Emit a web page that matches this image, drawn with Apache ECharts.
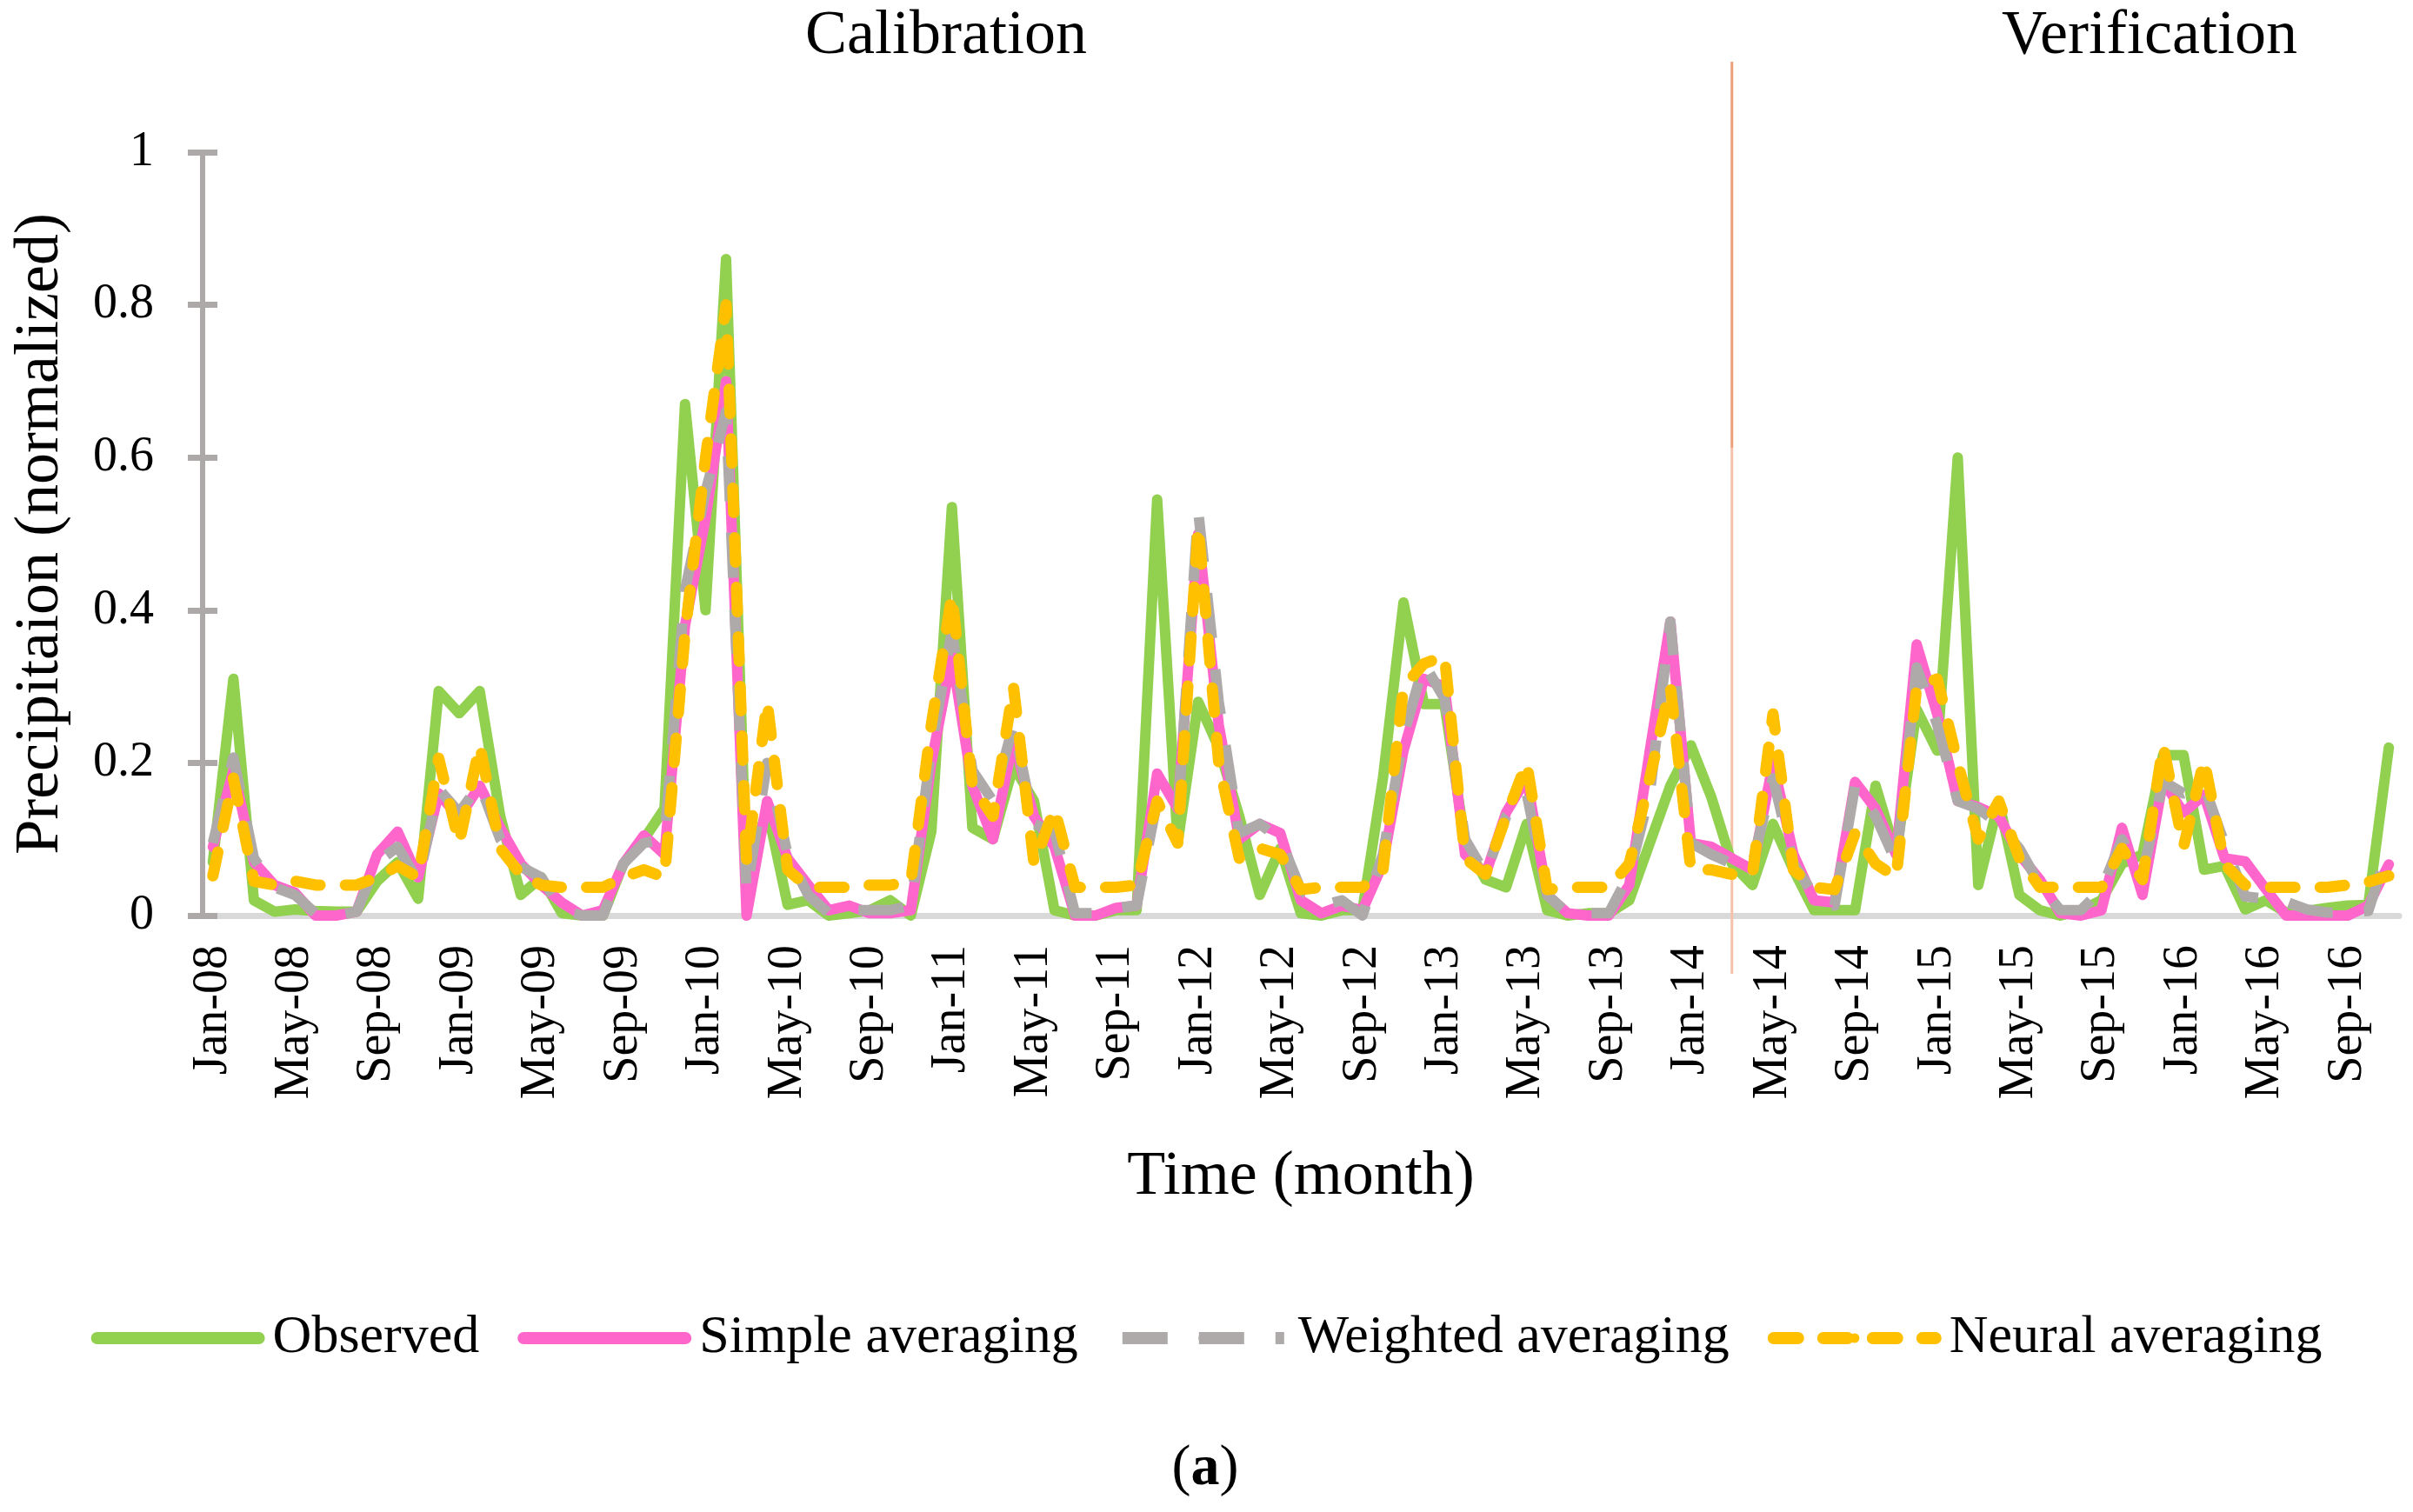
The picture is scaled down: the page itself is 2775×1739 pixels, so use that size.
<!DOCTYPE html>
<html>
<head>
<meta charset="utf-8">
<title>Precipitation</title>
<script src="https://cdn.jsdelivr.net/npm/echarts@6/dist/echarts.min.js"></script>
<style>
  html, body { margin: 0; padding: 0; background: #fff; }
  #chart { width: 2775px; height: 1739px; }
</style>
</head>
<body>
<div id="chart"></div>
<script>
// month labels Jan-08 .. Nov-16
const monthNames = ['Jan', 'Feb', 'Mar', 'Apr', 'May', 'Jun', 'Jul', 'Aug', 'Sep', 'Oct', 'Nov', 'Dec']
const years = ['08', '09', '10', '11', '12', '13', '14', '15', '16']
const months = []
years.forEach(function (y) {
  monthNames.forEach(function (m) {
    months.push(m + '-' + y)
  })
})
months.length = 107

const yTicks = [0, 0.2, 0.4, 0.6, 0.8, 1]

const observed = [
  0.07, 0.31, 0.02, 0.005, 0.008, 0.006, 0.005, 0.005, 0.045, 0.07, 0.022, 0.294,
  0.265, 0.294, 0.13, 0.027, 0.05, 0.003, 0, 0, 0.068, 0.1, 0.14, 0.67,
  0.4, 0.86, 0.05, 0.14, 0.014, 0.02, 0, 0.003, 0.007, 0.02, 0, 0.11,
  0.535, 0.115, 0.1, 0.196, 0.15, 0.007, 0, 0, 0.007, 0.007, 0.545, 0.095,
  0.28, 0.22, 0.13, 0.027, 0.088, 0.003, 0, 0.007, 0.007, 0.18, 0.41, 0.277,
  0.277, 0.095, 0.047, 0.037, 0.12, 0.007, 0, 0.003, 0.003, 0.02, 0.095, 0.17,
  0.223, 0.155, 0.068, 0.04, 0.12, 0.06, 0.007, 0.007, 0.007, 0.17, 0.08, 0.27,
  0.216, 0.6, 0.04, 0.15, 0.027, 0.007, 0, 0.007, 0.02, 0.068, 0.08, 0.21,
  0.21, 0.06, 0.065, 0.008, 0.02, 0.004, 0.006, 0.01, 0.013, 0.014, 0.22,
]

const simpleAvg = [
  0.09, 0.19, 0.07, 0.04, 0.03, 0, 0, 0.005, 0.08, 0.11, 0.05, 0.16,
  0.128, 0.17, 0.115, 0.068, 0.04, 0.017, 0, 0.007, 0.068, 0.105, 0.08, 0.38,
  0.52, 0.7, 0, 0.15, 0.075, 0.04, 0.007, 0.013, 0.003, 0.003, 0.007, 0.2,
  0.34, 0.17, 0.1, 0.23, 0.13, 0.09, 0, 0, 0.01, 0.013, 0.186, 0.14,
  0.5, 0.25, 0.1, 0.12, 0.108, 0.02, 0.003, 0.013, 0.007, 0.068, 0.216, 0.31,
  0.3, 0.08, 0.054, 0.135, 0.18, 0.027, 0.003, 0, 0, 0.04, 0.216, 0.385,
  0.095, 0.09, 0.075, 0.06, 0.2, 0.08, 0.02, 0.017, 0.175, 0.14, 0.08, 0.355,
  0.264, 0.15, 0.142, 0.13, 0.08, 0.047, 0.003, 0, 0.007, 0.115, 0.027, 0.176,
  0.135, 0.158, 0.075, 0.071, 0.035, 0, 0, 0, 0, 0.013, 0.067,
]

const weightedAvg = [
  0.095, 0.207, 0.075, 0.037, 0.027, 0.003, 0, 0.005, 0.07, 0.09, 0.045, 0.166,
  0.135, 0.172, 0.1, 0.064, 0.05, 0.007, 0, 0, 0.068, 0.095, 0.1, 0.426,
  0.555, 0.66, 0.03, 0.2, 0.08, 0.027, 0.003, 0.007, 0.007, 0.007, 0.013, 0.22,
  0.372, 0.19, 0.15, 0.25, 0.12, 0.11, 0.003, 0.003, 0.01, 0.013, 0.15, 0.13,
  0.53, 0.28, 0.108, 0.12, 0.1, 0.034, 0.013, 0.02, 0, 0.08, 0.236, 0.33,
  0.284, 0.1, 0.054, 0.13, 0.16, 0.027, 0.003, 0.003, 0.003, 0.054, 0.16, 0.385,
  0.095, 0.08, 0.068, 0.068, 0.18, 0.068, 0.027, 0.013, 0.17, 0.13, 0.07, 0.325,
  0.25, 0.15, 0.14, 0.12, 0.088, 0.04, 0.007, 0.007, 0.034, 0.1, 0.054, 0.176,
  0.16, 0.17, 0.094, 0.025, 0.022, 0.018, 0.008, 0.004, 0.004, 0.006, 0.09,
]

const neuralAvg = [
  0.052, 0.18, 0.045, 0.04, 0.045, 0.04, 0.04, 0.04, 0.05, 0.065, 0.05, 0.206,
  0.095, 0.223, 0.088, 0.054, 0.04, 0.037, 0.037, 0.037, 0.05, 0.06, 0.05, 0.37,
  0.6, 0.8, 0.07, 0.28, 0.06, 0.037, 0.037, 0.037, 0.04, 0.04, 0.044, 0.25,
  0.42, 0.17, 0.13, 0.3, 0.068, 0.14, 0.037, 0.037, 0.037, 0.04, 0.15, 0.095,
  0.51, 0.2, 0.075, 0.088, 0.08, 0.034, 0.037, 0.037, 0.037, 0.06, 0.3, 0.33,
  0.34, 0.075, 0.054, 0.13, 0.2, 0.034, 0.037, 0.037, 0.037, 0.068, 0.18, 0.3,
  0.06, 0.06, 0.054, 0.054, 0.264, 0.06, 0.037, 0.034, 0.108, 0.068, 0.05, 0.3,
  0.31, 0.2, 0.1, 0.15, 0.075, 0.037, 0.037, 0.037, 0.037, 0.088, 0.047, 0.223,
  0.09, 0.204, 0.067, 0.04, 0.037, 0.037, 0.037, 0.037, 0.04, 0.044, 0.052,
]

// last calibration month, the divider sits on it
const splitMonth = 'Mar-14'

const serif = 'Liberation Serif, Times New Roman, serif'

function precipChart() {
  const option = {
    animation: false,
    backgroundColor: '#fff',
    textStyle: { fontFamily: serif },
    grid: {
      left: 233,
      right: 16,
      top: 175,
      bottom: 686,
      containLabel: false,
      outerBoundsMode: 'none',
    },
    legend: {
      left: 'center',
      top: 1503,
      itemWidth: 186,
      itemHeight: 14,
      itemGap: 44,
      lineStyle: { width: 14 },
      textStyle: {
        fontFamily: serif,
        fontSize: 62,
        color: '#000',
        padding: [0, 0, 0, 11],
      },
      data: ['Observed', 'Simple averaging', 'Weighted averaging', 'Neural averaging'],
    },
    xAxis: [
      {
        type: 'category',
        data: months,
        boundaryGap: true,
        name: 'Time (month)',
        nameLocation: 'middle',
        nameGap: 265,
        nameTextStyle: { fontFamily: serif, fontSize: 72, color: '#000' },
        axisLine: { lineStyle: { color: '#D9D9D9', width: 7 } },
        axisTick: { interval: 3, length: 21, lineStyle: { color: '#D9D9D9', width: 7 } },
        axisLabel: {
          interval: 3,
          rotate: 90,
          margin: 34,
          fontFamily: serif,
          fontSize: 56,
          color: '#000',
        },
        splitLine: { show: false },
      },
      {
        // inner half of the crossing ticks
        type: 'category',
        data: months,
        boundaryGap: true,
        position: 'bottom',
        axisLine: { show: false },
        axisTick: { interval: 3, inside: true, length: 12, lineStyle: { color: '#D9D9D9', width: 7 } },
        axisLabel: { show: false },
      },
    ],
    yAxis: [
      {
        type: 'value',
        min: yTicks[0],
        max: yTicks[yTicks.length - 1],
        interval: 0.2,
        name: 'Precipitaion (normalized)',
        nameLocation: 'middle',
        nameGap: 150,
        nameTextStyle: { fontFamily: serif, fontSize: 72, color: '#000' },
        axisLine: { show: true, lineStyle: { color: '#ADA9A9', width: 6 } },
        axisTick: { show: true, length: 17, lineStyle: { color: '#ADA9A9', width: 7 } },
        axisLabel: { margin: 56, fontFamily: serif, fontSize: 56, color: '#000' },
        splitLine: { show: false },
      },
      {
        type: 'value',
        min: yTicks[0],
        max: yTicks[yTicks.length - 1],
        interval: 0.2,
        position: 'left',
        offset: 0,
        axisLine: { show: false },
        axisTick: { show: true, inside: true, length: 17, lineStyle: { color: '#ADA9A9', width: 7 } },
        axisLabel: { show: false },
        splitLine: { show: false },
      },
    ],
    series: [
      {
        name: 'Observed',
        type: 'line',
        data: observed,
        symbol: 'none',
        color: '#92D050',
        lineStyle: { color: '#92D050', width: 12, join: 'round', cap: 'round' },
      },
      {
        name: 'Simple averaging',
        type: 'line',
        data: simpleAvg,
        symbol: 'none',
        color: '#FF66CC',
        lineStyle: { color: '#FF66CC', width: 12, join: 'round', cap: 'round' },
      },
      {
        name: 'Weighted averaging',
        type: 'line',
        data: weightedAvg,
        symbol: 'none',
        color: '#AEAAAA',
        lineStyle: { color: '#AEAAAA', width: 12, type: [52, 36], join: 'round' },
      },
      {
        name: 'Neural averaging',
        type: 'line',
        data: neuralAvg,
        symbol: 'none',
        color: '#FFC000',
        lineStyle: { color: '#FFC000', width: 13, type: [28, 29], cap: 'round', join: 'round' },
      },
    ],
  }

  const myChart = echarts.init(document.getElementById('chart'))
  myChart.setOption(option)

  // divider between calibration and verification, placed through the x scale
  const vx = myChart.convertToPixel({ xAxisIndex: 0 }, splitMonth)
  myChart.setOption({
    graphic: [
      {
        type: 'line',
        shape: { x1: vx, y1: 71, x2: vx, y2: 515 },
        style: { stroke: '#EE9F7C', lineWidth: 3 },
        z: 1,
      },
      {
        type: 'line',
        shape: { x1: vx, y1: 515, x2: vx, y2: 1120 },
        style: { stroke: '#F5C1A8', lineWidth: 3 },
        z: 1,
      },
      {
        type: 'text',
        x: 1088,
        y: 42,
        style: { text: 'Calibration', font: '72px ' + serif, fill: '#000', textAlign: 'center', textVerticalAlign: 'middle' },
      },
      {
        type: 'text',
        x: 2472,
        y: 42,
        style: { text: 'Verification', font: '72px ' + serif, fill: '#000', textAlign: 'center', textVerticalAlign: 'middle' },
      },
      {
        type: 'text',
        x: 1386,
        y: 1690,
        style: {
          text: '({b|a})',
          font: '66px ' + serif,
          fill: '#000',
          textAlign: 'center',
          textVerticalAlign: 'middle',
          rich: { b: { fontWeight: 'bold', fontSize: 66, fontFamily: serif } },
        },
      },
    ],
  })
}

// 降水
precipChart()
</script>
</body>
</html>
